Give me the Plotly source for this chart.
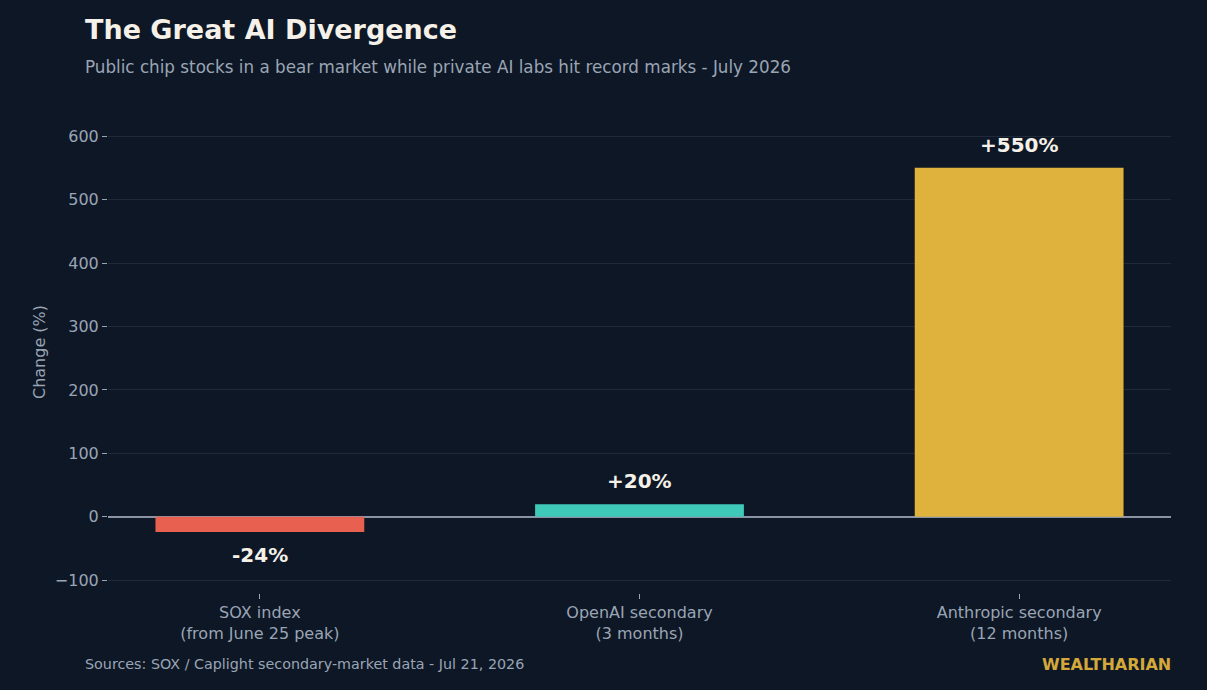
import plotly.graph_objects as go

categories = ["SOX index<br>(from June 25 peak)", "OpenAI secondary<br>(3 months)", "Anthropic secondary<br>(12 months)"]
values = [-24, 20, 550]
colors = ["#E8604F", "#3FC9B9", "#DFB23D"]
labels = [f"{v:+d}%" for v in values]

BG = "#0E1726"
FONT = "DejaVu Sans"

fig = go.Figure()
fig.add_trace(go.Bar(
    x=categories, y=values, marker=dict(color=colors, line=dict(width=0)),
    width=0.55, cliponaxis=False, hoverinfo="skip",
))
for c, v, t in zip(categories, values, labels):
    fig.add_annotation(x=c, y=v, text=f"<b>{t}</b>", showarrow=False,
                       xanchor="center", yanchor="middle", yshift=23 if v >= 0 else -23,
                       font=dict(family=FONT, size=20, color="#F5F1E8"))

fig.update_layout(
    width=1207, height=690,
    paper_bgcolor=BG, plot_bgcolor=BG,
    margin=dict(l=108, r=36, t=98, b=97),
    font=dict(family=FONT, color="#9AA5B4", size=16),
    showlegend=False,
    title=dict(text="<b>The Great AI Divergence</b>", x=85/1207, xanchor="left",
               y=1-30/690, yanchor="middle",
               font=dict(family=FONT, size=27, color="#F5F1E8")),
)
fig.add_annotation(text="Public chip stocks in a bear market while private AI labs hit record marks - July 2026",
                   xref="paper", yref="paper", x=(85-108)/1063, xshift=-2, y=(690-97-67)/495,
                   xanchor="left", yanchor="middle", showarrow=False,
                   font=dict(family=FONT, size=16.75, color="#9AA5B4"))
fig.add_annotation(text="Change (%)", textangle=-90,
                   xref="paper", yref="paper", x=(39-108)/1063, y=(593-352)/495,
                   xanchor="center", yanchor="middle", showarrow=False,
                   font=dict(family=FONT, size=16, color="#9AA5B4"))
fig.add_annotation(text="Sources: SOX / Caplight secondary-market data - Jul 21, 2026",
                   xref="paper", yref="paper", x=(85-108)/1063, xshift=-2, y=-(664-593)/495,
                   xanchor="left", yanchor="middle", showarrow=False,
                   font=dict(family=FONT, size=14.3, color="#9AA5B4"))
fig.add_annotation(text="<b>WEALTHARIAN</b>",
                   xref="paper", yref="paper", x=1, xshift=2, y=-(664-593)/495,
                   xanchor="right", yanchor="middle", showarrow=False,
                   font=dict(family=FONT, size=16, color="#D4A93A"))

fig.update_xaxes(range=[-0.4, 2.4], showgrid=False, ticks="outside", ticklen=5,
                 tickcolor="#9AA5B4", tickwidth=1, showline=False,
                 tickfont=dict(family=FONT, size=16, color="#9AA5B4"))
fig.update_yaxes(range=[-120, 660], dtick=100, showgrid=True, gridcolor="#1E2A3A", gridwidth=1,
                 zeroline=True, zerolinecolor="#8A94A4", zerolinewidth=2,
                 ticks="outside", ticklen=5, tickcolor="#9AA5B4",
                 tickfont=dict(family=FONT, size=16, color="#9AA5B4"))

fig.write_html("out.html")
